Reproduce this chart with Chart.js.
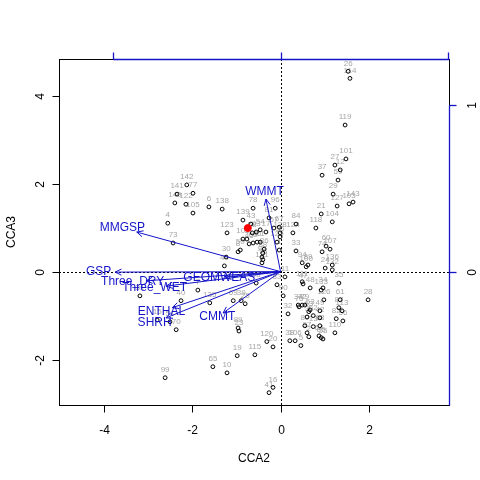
<!DOCTYPE html>
<html>
<head>
<meta charset="utf-8">
<script src="https://cdn.jsdelivr.net/npm/chart.js@4/dist/chart.umd.min.js"></script>
<style>
  html, body { margin: 0; padding: 0; background: #fff; }
  #wrap { width: 480px; height: 480px; }
</style>
</head>
<body>
<div id="wrap"><canvas id="cca"></canvas></div>
<script>
// site scores (CCA2, CCA3) and their labels
const siteLabels = ['26','114','119','101','27','12','37','59','29','127','103','143','21','104','118','84','124',
  '96','81','57','67','128','36','125','1',
  '142','77','140','141','122','105','6','138','4','73','123','139','78','43','54','17','58','93','50','102','9','66','46','71','45','30','8','44',
  '86','88','92','75','131','11','83',
  '33','74','60','107','100','94','89','24','136','132','111','47','48','133','34','35','61','28','90','32','34b','76','72','79','53','63','126','49','87','113','62','42','3','82','56','80','13','68','110','97','2','64','85','55','38','106','5','20','120','16','41',
  '31','40','7','135','69','39','25','98','15','51','70','89b','23','115','19','65','10','99'];
const siteX = [1.53,1.57,1.46,1.48,1.23,1.35,0.94,1.30,1.19,1.28,1.55,1.64,0.92,1.17,0.80,0.35,0.28,
  -0.12,-0.26,-0.15,-0.03,-0.01,-0.01,-0.08,-0.03,
  -2.12,-1.98,-2.39,-2.34,-2.14,-1.98,-1.62,-1.32,-2.55,-2.43,-1.21,-0.85,-0.62,-0.67,-0.46,-0.33,-0.64,-0.55,-0.91,-0.85,-0.76,-0.62,-0.53,-0.46,-0.71,-1.23,-0.96,-1.27,
  -0.37,-0.40,-0.42,-0.40,-0.42,0.10,-0.08,
  0.35,0.94,1.03,1.12,0.58,0.49,0.62,1.01,1.17,1.17,0.49,0.51,0.67,0.92,0.96,1.32,1.35,1.98,0.06,0.17,0.40,0.42,0.49,0.55,0.67,0.64,0.98,0.89,1.32,1.39,0.74,0.89,0.60,1.26,1.41,0.55,0.74,0.89,1.23,0.60,0.64,0.87,0.92,0.96,0.21,0.33,0.46,-0.17,-0.31,-0.17,-0.26,
  -3.18,-2.25,-1.87,-1.60,-1.07,-0.89,-0.80,-0.55,-2.79,-2.50,-2.36,-0.96,-0.94,-0.58,-0.98,-1.53,-1.21,-2.61];
const siteY = [4.55,4.39,3.33,2.56,2.42,2.31,2.19,2.08,1.76,1.49,1.54,1.58,1.31,1.13,0.99,1.08,0.88,
  1.44,1.22,0.99,1.01,0.88,0.79,0.67,0.49,
  1.97,1.78,1.56,1.76,1.53,1.33,1.47,1.42,1.10,0.65,0.88,1.17,1.44,1.08,0.95,0.90,0.88,0.90,0.49,0.74,0.74,0.65,0.67,0.67,0.63,0.33,0.45,0.13,
  0.51,0.42,0.33,0.27,0.20,-0.12,-0.30,
  0.47,0.45,0.58,0.51,0.11,0.20,0.15,0.08,0.15,0.04,-0.23,-0.28,-0.37,-0.42,-0.37,-0.26,-0.64,-0.64,-0.55,-0.96,-0.76,-0.80,-0.76,-0.76,-0.87,-0.91,-0.64,-0.89,-0.82,-0.89,-1.00,-1.05,-1.03,-1.07,-1.12,-1.23,-1.25,-1.23,-1.39,-1.39,-1.48,-1.46,-1.50,-1.53,-1.57,-1.57,-1.68,-1.71,-1.59,-2.63,-2.75,
  -0.55,-0.66,-0.42,-0.71,-0.66,-0.66,-0.73,-0.26,-1.10,-1.14,-1.32,-1.28,-1.35,-1.89,-1.91,-2.16,-2.30,-2.41];

// the one highlighted site
const focusX = [-0.74];
const focusY = [0.99];

// biplot arrows, in the arrow scale of the top/right axes
const bipLabels = ['WMMT','MMGSP','GSP','Three_DRY','Three_WET','GEOMWEAS','ENTHAL','SHRH','CMMT'];
const bipX = [-0.087,-0.858,-0.987,-0.802,-0.683,-0.332,-0.646,-0.683,-0.343];
const bipY = [0.435,0.237,-0.003,-0.055,-0.087,-0.032,-0.216,-0.277,-0.248];
const arrowMul = 3.79;

// axis ticks
const xTicks = [-4, -2, 0, 2];
const yTicks = [-2, 0, 2, 4];
const topTicks = [-1, 0, 1];
const rightTicks = [0, 1];

const BLUE = '#1414c8';
const FONT = '"Liberation Sans", Arial, sans-serif';

const sitePoints = siteX.map((x, i) => ({ x: x, y: siteY[i] }));
const arrowSets = bipX.map((x, i) => ({
  data: [{ x: 0, y: 0 }, { x: x * arrowMul, y: bipY[i] * arrowMul }],
  showLine: true,
  borderColor: BLUE,
  borderWidth: 1,
  pointRadius: 0
}));

const biplotPlugin = {
  id: 'biplot',
  beforeDatasetsDraw(chart) {
    const { ctx, chartArea: a, scales: { x, y } } = chart;
    ctx.save();
    // dotted zero lines
    ctx.strokeStyle = '#000';
    ctx.lineWidth = 1;
    ctx.setLineDash([2, 2]);
    ctx.beginPath();
    ctx.moveTo(a.left, Math.round(y.getPixelForValue(0)) + 0.5);
    ctx.lineTo(a.right, Math.round(y.getPixelForValue(0)) + 0.5);
    ctx.moveTo(Math.round(x.getPixelForValue(0)) + 0.5, a.top);
    ctx.lineTo(Math.round(x.getPixelForValue(0)) + 0.5, a.bottom);
    ctx.stroke();
    ctx.setLineDash([]);
    // site labels, grey, above the points
    ctx.fillStyle = '#a6a6a6';
    ctx.font = '8px ' + FONT;
    ctx.textAlign = 'center';
    ctx.textBaseline = 'middle';
    siteLabels.forEach((lab, i) => {
      ctx.fillText(lab.replace(/[a-z]$/, ''), x.getPixelForValue(siteX[i]), y.getPixelForValue(siteY[i]) - 8);
    });
    ctx.restore();
  },
  afterDatasetsDraw(chart) {
    const { ctx, chartArea: a, scales: { x, y } } = chart;
    ctx.save();
    const ox = x.getPixelForValue(0), oy = y.getPixelForValue(0);
    // arrow heads and labels
    ctx.strokeStyle = BLUE;
    ctx.fillStyle = BLUE;
    ctx.lineWidth = 1;
    ctx.font = '12px ' + FONT;
    ctx.textAlign = 'center';
    ctx.textBaseline = 'middle';
    bipX.forEach((bx, i) => {
      const tx = x.getPixelForValue(bx * arrowMul), ty = y.getPixelForValue(bipY[i] * arrowMul);
      const ang = Math.atan2(ty - oy, tx - ox);
      ctx.beginPath();
      [-0.45, 0.45].forEach(d => {
        ctx.moveTo(tx, ty);
        ctx.lineTo(tx - 7 * Math.cos(ang + d), ty - 7 * Math.sin(ang + d));
      });
      ctx.stroke();
      ctx.fillText(bipLabels[i], x.getPixelForValue(bx * arrowMul * 1.1), y.getPixelForValue(bipY[i] * arrowMul * 1.1));
    });

    const L = Math.round(a.left) + 0.5, R = Math.round(a.right) + 0.5;
    const T = Math.round(a.top) + 0.5, B = Math.round(a.bottom) + 0.5;

    // main frame
    ctx.strokeStyle = '#000';
    ctx.strokeRect(L, T, R - L, B - T);

    // bottom axis
    ctx.fillStyle = '#000';
    ctx.font = '12px ' + FONT;
    ctx.beginPath();
    xTicks.forEach(v => {
      const px = Math.round(x.getPixelForValue(v)) + 0.5;
      ctx.moveTo(px, B);
      ctx.lineTo(px, B + 7);
      ctx.fillText(String(v), px, B + 25);
    });
    ctx.stroke();
    ctx.fillText('CCA2', (a.left + a.right) / 2, B + 53);

    // left axis
    ctx.beginPath();
    yTicks.forEach(v => {
      const py = Math.round(y.getPixelForValue(v)) + 0.5;
      ctx.moveTo(L, py);
      ctx.lineTo(L - 7, py);
      ctx.save();
      ctx.translate(L - 19, py);
      ctx.rotate(-Math.PI / 2);
      ctx.fillText(String(v), 0, 0);
      ctx.restore();
    });
    ctx.stroke();
    ctx.save();
    ctx.translate(12, (a.top + a.bottom) / 2);
    ctx.rotate(-Math.PI / 2);
    ctx.fillText('CCA3', 0, 0);
    ctx.restore();

    // top axis for the arrows (blue)
    ctx.strokeStyle = BLUE;
    ctx.lineWidth = 1.3;
    const tx0 = Math.round(x.getPixelForValue(topTicks[0] * arrowMul)) + 0.5;
    ctx.beginPath();
    ctx.moveTo(tx0, T);
    ctx.lineTo(R, T);
    ctx.stroke();
    topTicks.forEach(v => {
      const px = Math.min(Math.round(x.getPixelForValue(v * arrowMul)) + 0.5, R);
      ctx.beginPath();
      ctx.moveTo(px, T);
      ctx.lineTo(px, T - 7);
      ctx.stroke();
    });

    // right axis for the arrows (blue)
    const ry1 = Math.round(y.getPixelForValue(rightTicks[rightTicks.length - 1] * arrowMul)) + 0.5;
    ctx.beginPath();
    ctx.moveTo(R, ry1);
    ctx.lineTo(R, B);
    ctx.stroke();
    rightTicks.forEach(v => {
      const py = Math.round(y.getPixelForValue(v * arrowMul)) + 0.5;
      ctx.beginPath();
      ctx.moveTo(R, py);
      ctx.lineTo(R + 7, py);
      ctx.stroke();
      ctx.save();
      ctx.translate(R + 23, py);
      ctx.rotate(-Math.PI / 2);
      ctx.fillText(String(v), 0, 0);
      ctx.restore();
    });
    ctx.restore();
  }
};

new Chart(document.getElementById('cca'), {
  type: 'scatter',
  data: {
    datasets: [
      {
        data: focusX.map((x, i) => ({ x: x, y: focusY[i] })),
        pointRadius: 3.5,
        pointBackgroundColor: '#ff0000',
        pointBorderColor: '#ff0000',
        borderWidth: 1
      },
      ...arrowSets,
      {
        data: sitePoints,
        pointRadius: 1.9,
        pointBackgroundColor: 'rgba(0,0,0,0)',
        pointBorderColor: '#000',
        pointBorderWidth: 1
      }
    ]
  },
  options: {
    responsive: true,
    maintainAspectRatio: false,
    animation: false,
    layout: { padding: { left: 59, right: 31, top: 59, bottom: 75 } },
    scales: {
      x: { type: 'linear', min: -5.01, max: 3.81, display: false },
      y: { type: 'linear', min: -3.03, max: 4.83, display: false }
    },
    plugins: {
      legend: { display: false },
      tooltip: { enabled: false }
    }
  },
  plugins: [biplotPlugin]
});
</script>
</body>
</html>
